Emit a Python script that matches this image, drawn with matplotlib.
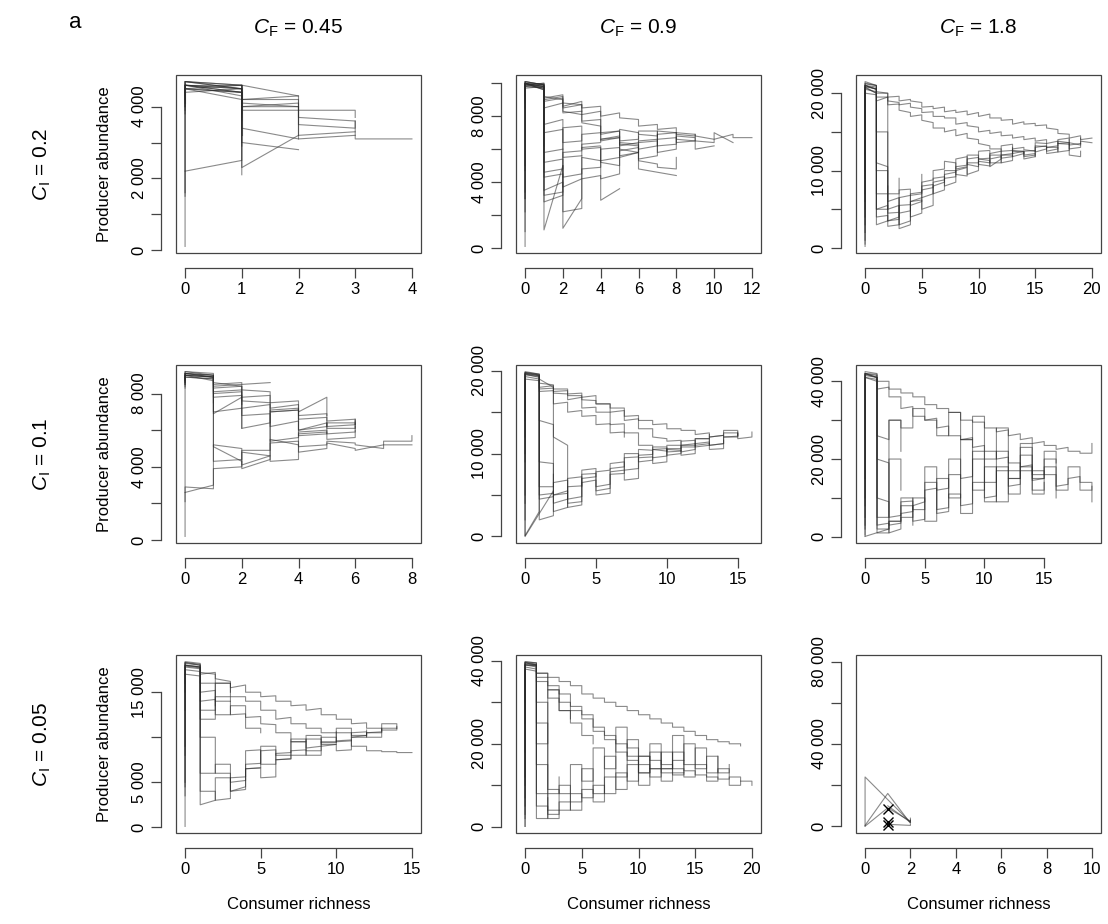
import matplotlib.pyplot as plt
from matplotlib.patches import Rectangle
import numpy as np

plt.rcParams['font.family'] = ['Liberation Sans', 'DejaVu Sans']
plt.rcParams['mathtext.fontset'] = 'custom'
plt.rcParams['mathtext.rm'] = 'Liberation Sans'
plt.rcParams['mathtext.it'] = 'Liberation Sans:italic'

# each trajectory: list of [richness, abundance on arrival, abundance on leaving], in thousands
traj = {}
traj[0, 0] = [
    [[0, 0.1, 4.6], [1, 4.5, 3.9], [2, 3.9, 3.2], [3, 3.3, 3.1], [4, 3.1, 3.1]],
    [[0, 1.5, 4.5], [1, 4.4, 4.0], [2, 4.1, 3.7], [3, 3.6, 3.3]],
    [[0, 1.6, 4.4], [1, 4.5, 2.3], [2, 3.2, 3.1], [3, 3.2, 3.2]],
    [[0, 2.2, 2.2], [1, 2.5, 4.6], [2, 4.3, 3.5], [3, 3.4, 3.6]],
    [[0, 4.2, 4.7], [1, 4.6, 3.0], [2, 2.8, 2.8]],
    [[0, 4.0, 4.6], [1, 4.5, 4.1], [2, 4.0, 3.2]],
    [[0, 4.3, 4.7], [1, 4.5, 3.6]],
    [[0, 4.1, 4.6], [1, 4.6, 3.2]],
    [[0, 4.0, 4.5], [1, 4.4, 2.1]],
    [[0, 4.4, 4.6], [1, 4.4, 3.8]],
    [[0, 3.9, 4.5], [1, 4.6, 4.2], [2, 4.3, 4.3]],
    [[0, 4.2, 4.7], [1, 4.5, 2.9]],
    [[0, 4.1, 4.6], [1, 4.4, 3.4], [2, 3.1, 3.1]],
    [[0, 3.8, 4.6], [1, 4.3, 4.2], [2, 4.2, 3.9], [3, 3.9, 3.7]],
    [[0, 4.3, 4.5], [1, 4.2, 3.7]],
    [[0, 4.5, 4.7], [1, 4.6, 4.0], [2, 4.0, 4.0]],
]
traj[0, 1] = [
    [[0, 0.1, 10.0], [1, 9.9, 9.0], [2, 9.2, 8.8], [3, 8.7, 8.5], [4, 8.6, 8.0], [5, 8.2, 7.9], [6, 7.8, 7.4],
     [7, 7.5, 7.2], [8, 7.3, 7.0], [9, 6.9, 6.8], [10, 6.6, 6.6], [11, 6.9, 6.7], [12, 6.7, 6.7]],
    [[0, 2.2, 9.8], [1, 9.7, 4.3], [2, 4.5, 3.7], [3, 4.2, 5.5], [4, 5.3, 6.0], [5, 6.1, 5.6], [6, 5.8, 6.4],
     [7, 6.5, 6.2], [8, 6.3, 6.8], [9, 6.7, 6.0], [10, 6.2, 6.2]],
    [[0, 3.0, 10.0], [1, 9.6, 3.5], [2, 4.0, 2.2], [3, 2.4, 6.1], [4, 6.2, 4.2], [5, 4.5, 5.5], [6, 5.8, 6.5],
     [7, 6.6, 5.8], [8, 6.0, 7.0]],
    [[0, 4.7, 9.9], [1, 9.8, 9.1], [2, 9.3, 8.6], [3, 8.9, 8.1], [4, 8.3, 7.0], [5, 7.1, 6.0], [6, 5.8, 4.8],
     [7, 4.6, 4.6], [8, 4.4, 4.4]],
    [[0, 1.0, 10.1], [1, 9.9, 1.1], [2, 5.0, 4.3], [3, 4.5, 4.8], [4, 4.9, 5.3], [5, 5.5, 6.4], [6, 6.3, 6.0],
     [7, 6.2, 6.9], [8, 7.0, 6.6], [9, 6.5, 6.5], [10, 6.4, 7.0], [11, 6.4, 6.4]],
    [[0, 3.4, 9.7], [1, 9.8, 5.2], [2, 5.4, 1.2], [3, 3.0, 4.2], [4, 4.4, 2.9], [5, 3.6, 3.6]],
    [[0, 5.0, 10.0], [1, 9.7, 9.2], [2, 9.0, 8.3], [3, 8.1, 7.6], [4, 7.4, 6.5], [5, 6.7, 7.2], [6, 7.0, 6.9],
     [7, 6.8, 7.1], [8, 7.0, 6.9], [9, 6.8, 6.8]],
    [[0, 3.0, 9.9], [1, 10.0, 2.8], [2, 3.2, 7.3], [3, 7.4, 6.0], [4, 6.1, 5.2], [5, 5.0, 5.9], [6, 6.1, 5.4],
     [7, 5.6, 6.9]],
    [[0, 9.5, 10.0], [1, 9.8, 8.9], [2, 9.1, 8.5], [3, 8.7, 7.7], [4, 7.8, 6.9], [5, 7.1, 6.3], [6, 6.2, 5.3],
     [7, 5.1, 4.9], [8, 4.8, 5.5]],
    [[0, 8.8, 10.1], [1, 9.9, 5.8], [2, 6.0, 6.0]],
    [[0, 9.0, 9.9], [1, 10.0, 7.5], [2, 7.8, 5.5], [3, 5.6, 5.6]],
    [[0, 9.2, 10.0], [1, 9.8, 6.2]],
    [[0, 8.5, 9.8], [1, 9.9, 8.5], [2, 8.8, 8.2], [3, 8.3, 8.3]],
    [[0, 9.6, 10.1], [1, 9.9, 4.6], [2, 4.8, 5.8], [3, 5.9, 6.3], [4, 6.4, 6.6], [5, 6.7, 6.2], [6, 6.4, 7.1],
     [7, 7.1, 6.6], [8, 6.7, 6.4], [9, 6.5, 6.9]],
    [[0, 9.3, 9.9], [1, 9.7, 3.2], [2, 3.4, 5.0]],
    [[0, 9.7, 10.0], [1, 9.6, 7.0], [2, 7.2, 6.4], [3, 6.5, 6.9], [4, 7.0, 6.6], [5, 6.8, 6.5], [6, 6.6, 6.8]],
]
traj[0, 2] = [
    [[0, 0.5, 21], [1, 20.5, 19.5], [2, 19.5, 19], [3, 18.8, 18.5], [4, 18.7, 18.2], [5, 18, 17.5], [6, 17.6, 17],
     [7, 17, 16.8], [8, 16.8, 16], [9, 16.2, 15.8], [10, 15.6, 15], [11, 15.2, 14.8], [12, 15, 14.5],
     [13, 14.6, 14.2], [14, 14.4, 14], [15, 14.2, 13.8], [16, 14, 13.5], [17, 13.8, 13.5], [18, 13.6, 13.3],
     [19, 13.5, 13.8], [20, 13.6, 13.6]],
    [[0, 3, 20.8], [1, 20.6, 19], [2, 19.5, 18.5], [3, 18.6, 17.8], [4, 17.5, 17], [5, 17.2, 16.5], [6, 16.2, 15.5],
     [7, 15.5, 15], [8, 15.3, 14.5], [9, 14.8, 14.2], [10, 14, 13.5], [11, 13.2, 12.8], [12, 12.8, 12.5],
     [13, 12.6, 12.2], [14, 12.5, 12], [15, 12.2, 11.8]],
    [[0, 5, 21.2], [1, 21, 20], [2, 20, 19.5], [3, 19.6, 19], [4, 19.2, 19], [5, 18.8, 18.2], [6, 18.3, 18],
     [7, 18.2, 17.6], [8, 17.8, 17.5], [9, 17.7, 17.2], [10, 17.5, 17], [11, 17.3, 16.8], [12, 16.8, 16.5],
     [13, 16.6, 16], [14, 16.3, 16], [15, 16.1, 15.8], [16, 15.9, 15.5], [17, 15.3, 14.8], [18, 14.7, 14.2],
     [19, 14.5, 14], [20, 14.2, 14.2]],
    [[0, 1, 20.5], [1, 20.2, 5], [2, 5.5, 3.5], [3, 4, 5.5], [4, 5.6, 6], [5, 6.5, 7.5], [6, 7.8, 8], [7, 8.5, 9.5],
     [8, 9.8, 10.5], [9, 10.7, 11], [10, 11, 11.5], [11, 11.3, 10.5], [12, 11.5, 12], [13, 12, 11.8],
     [14, 12.2, 12.5], [15, 12.6, 12.4], [16, 12.8, 13], [17, 13.2, 13.5], [18, 13.4, 12.8], [19, 13, 13.5]],
    [[0, 6, 20], [1, 19.8, 4], [2, 4.2, 2.8], [3, 3, 4.5], [4, 4.8, 5.5], [5, 6, 6.5], [6, 7, 8.5], [7, 8.8, 9],
     [8, 9.2, 10], [9, 10.4, 9.5], [10, 10, 11.2], [11, 11, 11.5], [12, 11.8, 11], [13, 11.3, 12.5],
     [14, 12.4, 11.8], [15, 12, 13], [16, 13.2, 12.5], [17, 12.8, 13.8], [18, 13.6, 14]],
    [[0, 2, 21], [1, 20.5, 11], [2, 10.5, 6], [3, 6.5, 3], [4, 3.5, 7], [5, 7.2, 8.5], [6, 8.8, 10], [7, 10.2, 11.2],
     [8, 11, 10.2], [9, 10.5, 12], [10, 12, 11.5], [11, 11.6, 12.2], [12, 12.5, 12], [13, 12.2, 13]],
    [[0, 0.2, 20.8], [1, 20, 7], [2, 7, 5], [3, 5.5, 2.5], [4, 3, 6], [5, 6.2, 5], [6, 5.5, 9], [7, 9.2, 8],
     [8, 8.5, 11.5], [9, 11.8, 10.8], [10, 10.5, 12.5], [11, 12.6, 11], [12, 11, 13.2], [13, 13.4, 12.6],
     [14, 12.5, 11.5], [15, 11.8, 13.2], [16, 13.1, 12.2], [17, 12.4, 14], [18, 14.2, 12], [19, 11.8, 12.5]],
    [[0, 4, 21], [1, 20.5, 10], [2, 10, 3.5], [3, 3.7, 6.5], [4, 6.8, 4], [5, 4.5, 8], [6, 8.2, 7], [7, 7.5, 10],
     [8, 10, 9.5], [9, 9.3, 11.5], [10, 11.7, 10.8], [11, 10.6, 12], [12, 12, 11.6], [13, 11.8, 12.8],
     [14, 13, 12.7], [15, 12.5, 13.6], [16, 13.5, 13], [17, 13, 12.4], [18, 12.6, 13.6], [19, 13.3, 14.2]],
    [[0, 9, 21.5], [1, 21, 5], [2, 5, 8]],
    [[0, 7, 20.7], [1, 20, 3], [2, 3.5, 3.5]],
    [[0, 10, 21], [1, 20.8, 15], [2, 15, 7], [3, 7, 9]],
    [[0, 12, 21.3], [1, 21, 20.2], [2, 20, 4.5], [3, 4.6, 7.5], [4, 7.6, 6.8], [5, 7, 9.5]],
]
traj[1, 0] = [
    [[0, 0.2, 9.0], [1, 8.9, 8.3], [2, 8.4, 7.6], [3, 7.5, 7.0], [4, 7.1, 6.6], [5, 6.7, 6.2], [6, 6.3, 6.5]],
    [[0, 8.5, 9.1], [1, 9.0, 8.0], [2, 8.1, 7.2], [3, 7.4, 6.2], [4, 6.5, 6.0], [5, 6.4, 6.1], [6, 6.1, 6.6]],
    [[0, 8.6, 8.9], [1, 8.8, 8.4], [2, 8.5, 8.2], [3, 8.1, 7.5], [4, 7.6, 7.0], [5, 7.8, 6.5], [6, 6.6, 6.3]],
    [[0, 8.4, 9.0], [1, 8.9, 6.9], [2, 7.8, 6.1]],
    [[0, 8.7, 9.2], [1, 9.1, 8.5], [2, 8.6, 8.5], [3, 8.6, 8.6]],
    [[0, 2.1, 2.9], [1, 2.8, 5.2], [2, 5.0, 4.1], [3, 4.6, 5.3], [4, 5.4, 5.1], [5, 5.2, 5.4], [6, 5.3, 5.2],
     [7, 5.0, 5.4], [8, 5.4, 5.7]],
    [[0, 2.6, 2.6], [1, 3.0, 3.9], [2, 4.0, 4.9], [3, 4.9, 5.5], [4, 5.2, 4.8], [5, 5.0, 5.3], [6, 5.0, 4.9],
     [7, 5.2, 5.2], [8, 5.2, 5.2]],
    [[0, 8.8, 9.0], [1, 8.9, 4.3], [2, 4.4, 4.8], [3, 4.6, 4.3], [4, 4.4, 5.8], [5, 5.9, 5.5], [6, 5.6, 6.0]],
    [[0, 8.5, 9.1], [1, 9.0, 5.1], [2, 4.3, 3.9], [3, 4.4, 7.0], [4, 7.1, 6.0], [5, 6.2, 6.4]],
    [[0, 8.6, 8.9], [1, 8.8, 8.1], [2, 8.2, 6.1], [3, 6.4, 7.1], [4, 7.2, 5.7], [5, 5.8, 6.4], [6, 6.4, 6.1]],
    [[0, 8.9, 9.1], [1, 8.9, 7.0], [2, 7.2, 6.8], [3, 6.9, 5.4], [4, 5.6, 5.9], [5, 6.0, 5.8], [6, 5.9, 6.2]],
    [[0, 8.3, 9.0], [1, 8.7, 8.6], [2, 8.4, 7.8], [3, 7.9, 7.2], [4, 7.4, 6.8], [5, 6.9, 6.8]],
    [[0, 8.7, 9.1], [1, 8.9, 7.5]],
    [[0, 8.8, 9.2], [1, 9.0, 7.8], [2, 7.9, 7.4]],
]
traj[1, 1] = [
    [[0, 0.2, 19.5], [1, 19.3, 18], [2, 18.2, 17.5], [3, 17.6, 17], [4, 17, 16.5], [5, 16.4, 16], [6, 16, 15],
     [7, 15.2, 14.5], [8, 14.6, 14], [9, 14, 13.5], [10, 13.6, 13], [11, 13, 12.8], [12, 12.8, 12.3],
     [13, 12.5, 12], [14, 12.2, 12], [15, 12.1, 12.6]],
    [[0, 4, 19.8], [1, 19.6, 18.5], [2, 18.3, 17.8], [3, 17.8, 17.2], [4, 17.3, 16.8], [5, 17, 16], [6, 16, 15.5],
     [7, 15.5, 14], [8, 14.2, 13], [9, 13, 12], [10, 11.8, 11.5], [11, 11.6, 11], [12, 11.2, 11.8],
     [13, 11.8, 12], [14, 12.2, 12.5], [15, 12.5, 12.2]],
    [[0, 9, 19.6], [1, 19.2, 17.8], [2, 17.9, 17.3], [3, 17.2, 16.5], [4, 16.8, 15.5], [5, 15.6, 15], [6, 15, 13.5],
     [7, 13.6, 12.5], [8, 12.5, 11], [9, 11, 10.5], [10, 10.6, 10.2], [11, 10.3, 10.8], [12, 10.8, 11.2]],
    [[0, 0.1, 19], [1, 18.8, 5], [2, 5.2, 4], [3, 4.5, 6], [4, 6.1, 7], [5, 7.2, 7.8], [6, 8, 8.2], [7, 8.4, 9.5],
     [8, 9.6, 9.8], [9, 9.9, 10.5], [10, 10.3, 10.6], [11, 10.6, 11], [12, 11, 11.2], [13, 11.4, 11],
     [14, 11.2, 12], [15, 12, 12.4]],
    [[0, 5, 19.3], [1, 19, 2], [2, 2.5, 6.5], [3, 6.8, 3.5], [4, 3.8, 7.5], [5, 7.6, 6], [6, 6.3, 8.8], [7, 9, 8],
     [8, 8.2, 10.5], [9, 10.4, 9.5], [10, 9.7, 11], [11, 11, 10.2], [12, 10.5, 11.8], [13, 11.8, 11],
     [14, 11.2, 12.8], [15, 12.8, 11.8], [16, 12, 12.6]],
    [[0, 2, 19.7], [1, 19.4, 9], [2, 8.8, 5], [3, 5.5, 4.5], [4, 4.8, 8], [5, 8.2, 5.5], [6, 5.8, 7.5],
     [7, 7.6, 10], [8, 10, 9], [9, 9.2, 10.8], [10, 10.8, 9.8], [11, 10, 11.5], [12, 11.6, 10.8], [13, 11, 12.3]],
    [[0, 0.1, 0.1], [1, 3, 19], [2, 18, 12], [3, 11, 4], [4, 4.2, 6.5], [5, 6.8, 5], [6, 5.2, 7.8], [7, 8, 6.8],
     [8, 7, 9.5], [9, 9.6, 8.8], [10, 9, 10.5], [11, 10.4, 9.8], [12, 10, 11], [13, 11.2, 10.5], [14, 10.6, 11.6]],
    [[0, 12, 19.8], [1, 19.5, 14], [2, 13.5, 3], [3, 3.5, 5]],
    [[0, 15, 19.6], [1, 19.4, 6], [2, 6, 7.5]],
    [[0, 0.0, 0.0], [2, 5.5, 5.0], [3, 5.2, 7.0], [4, 7.2, 6.0]],
    [[0, 10, 19.9], [1, 19.6, 17.5], [2, 17.6, 16], [3, 16.2, 15], [4, 15.2, 14.5], [5, 14.6, 13.5],
     [6, 13.6, 12.5], [7, 12.6, 12]],
    [[0, 14, 19.7], [1, 19.5, 4.5], [2, 4.8, 5.5]],
]
traj[1, 2] = [
    [[0, 0.2, 42], [1, 41.5, 40], [2, 40, 38], [3, 38, 37], [4, 37, 36], [5, 36, 34], [6, 34, 33], [7, 33, 32],
     [8, 32, 30], [9, 30, 29.5], [10, 29.5, 28], [11, 28, 27], [12, 27.5, 26], [13, 26.5, 25], [14, 25.5, 24],
     [15, 24.5, 23.5], [16, 23.5, 22.5], [17, 23, 22], [18, 22, 21.5], [19, 21.5, 24]],
    [[0, 5, 41.8], [1, 41, 38], [2, 38.5, 36], [3, 36, 33], [4, 33.5, 31], [5, 31, 30], [6, 30.5, 28],
     [7, 28.5, 26], [8, 26, 25], [9, 25.5, 23], [10, 23.5, 22], [11, 22, 20], [12, 20.5, 19], [13, 19, 18],
     [14, 18.5, 17], [15, 17, 16]],
    [[0, 0.5, 41], [1, 40.5, 3], [2, 3.5, 1], [3, 2, 6], [4, 6.5, 8], [5, 9, 14], [6, 14, 12], [7, 12.5, 20],
     [8, 20, 15], [9, 15.5, 22], [10, 22, 14], [11, 14, 18], [12, 18, 13], [13, 13.5, 17], [14, 17, 14.5],
     [15, 15, 18], [16, 18, 12], [17, 12, 15], [18, 15.5, 14], [19, 14, 9]],
    [[0, 2, 42], [1, 41.8, 10], [2, 9, 5], [3, 5.5, 9], [4, 9.2, 4], [5, 4.5, 12], [6, 12.5, 7], [7, 7.5, 16],
     [8, 16, 8], [9, 8.5, 20], [10, 20, 10], [11, 10.5, 22], [12, 22, 15], [13, 15, 24], [14, 24, 16],
     [15, 16, 20], [16, 20, 13], [17, 13.5, 18], [18, 18, 12], [19, 12, 13]],
    [[0, 10, 41.5], [1, 41, 20], [2, 19, 3], [3, 3.5, 10], [4, 10, 7], [5, 7, 18], [6, 18, 6], [7, 6.5, 11],
     [8, 11, 6], [9, 6, 14], [10, 14, 9], [11, 9, 17], [12, 17, 11], [13, 11, 21], [14, 21, 12], [15, 12, 16],
     [16, 16, 10]],
    [[0, 25, 42], [1, 41, 26], [2, 25, 30], [3, 30, 28], [4, 28, 33], [5, 33, 30], [6, 30, 26], [7, 26, 32],
     [8, 32, 25], [9, 25, 31], [10, 31, 20], [11, 20, 28], [12, 28, 17], [13, 17, 23], [14, 23, 15],
     [15, 15, 22], [16, 22, 19]],
    [[0, 3, 41], [1, 40, 2], [2, 2, 4], [3, 4, 5], [4, 5, 10], [5, 10, 4], [6, 4, 15], [7, 15, 10], [8, 10, 25],
     [9, 25, 12], [10, 12, 18], [11, 18, 9], [12, 9, 15], [13, 15, 18], [14, 18, 11], [15, 11, 14]],
    [[0, 15, 42], [1, 41, 5], [2, 5, 20], [3, 20, 12]],
    [[0, 8, 42.5], [1, 42, 1], [2, 1, 30], [3, 30, 22]],
    [[0, 0.1, 0.1], [2, 2, 4], [3, 4, 8], [4, 8, 3]],
]
traj[2, 0] = [
    [[0, 0.1, 18], [1, 17.8, 17], [2, 17.2, 16.5], [3, 16.2, 15.5], [4, 15.8, 15], [5, 15, 14.5], [6, 14.6, 14],
     [7, 14, 13.5], [8, 13.6, 13], [9, 13.2, 12.5], [10, 12.5, 12], [11, 12, 11.5], [12, 11.6, 11],
     [13, 11, 10.8], [14, 10.8, 11]],
    [[0, 8, 17.8], [1, 17.6, 17.2], [2, 17, 16], [3, 16, 14.5], [4, 14.5, 14], [5, 14, 13], [6, 13, 12],
     [7, 12.2, 11.5], [8, 11.5, 11], [9, 11, 10.5], [10, 10.5, 10.5], [11, 10.5, 10.2], [12, 10.2, 10.5],
     [13, 10.6, 10.8]],
    [[0, 15, 18.2], [1, 18, 16], [2, 16, 12.5], [3, 12.5, 13.5], [4, 13.5, 12.2], [5, 12.3, 11.5], [6, 11.4, 10.5],
     [7, 10.5, 9.5], [8, 9.5, 9.8], [9, 9.8, 9.4], [10, 9.4, 9.6], [11, 9.7, 9], [12, 9, 8.5], [13, 8.5, 8.4],
     [14, 8.4, 8.3], [15, 8.3, 8.3]],
    [[0, 3.5, 17.5], [1, 17.3, 4], [2, 4, 3], [3, 3.2, 5.5], [4, 5.6, 6.5], [5, 6.6, 5.5], [6, 5.6, 7.5],
     [7, 7.6, 8.5], [8, 8.6, 8], [9, 8, 9], [10, 9.2, 8.5], [11, 8.6, 10], [12, 10, 10.5], [13, 10.5, 11],
     [14, 11, 11.2]],
    [[0, 4.5, 17.9], [1, 17.7, 6], [2, 6, 7], [3, 7, 5], [4, 5.2, 7], [5, 7.1, 8.5], [6, 8.6, 8], [7, 8, 9.5],
     [8, 9.5, 8.8], [9, 9, 10], [10, 10, 9.5], [11, 9.6, 10.5], [12, 10.6, 10], [13, 10, 11.5], [14, 11.5, 11]],
    [[0, 5, 17], [1, 16.8, 2.5], [2, 3, 5.5], [3, 5.5, 4], [4, 4.2, 8.5], [5, 8.6, 7], [6, 7, 8.2], [7, 8.3, 9.8],
     [8, 9.8, 8.5], [9, 8.5, 9.5], [10, 9.5, 11], [11, 11, 10], [12, 10.2, 10.8]],
    [[0, 9, 18], [1, 17.8, 10], [2, 10, 6], [3, 6, 4], [4, 4.5, 6.5], [5, 6.6, 9], [6, 9, 7.5], [7, 7.6, 8],
     [8, 8, 10.2], [9, 10.2, 9.2], [10, 9.2, 10.6]],
    [[0, 13, 18.3], [1, 18, 12], [2, 12, 16], [3, 16, 15]],
    [[0, 16, 18], [1, 17.8, 13], [2, 13, 14.5], [3, 14.5, 14]],
    [[0, 17, 18.4], [1, 18.2, 15], [2, 15.2, 14], [3, 14, 12.5], [4, 12.6, 11], [5, 11, 10.5]],
    [[0, 17.5, 18.3], [1, 18.1, 14], [2, 14.2, 13.5]],
]
traj[2, 1] = [
    [[0, 0.1, 39.5], [1, 39, 37], [2, 37, 36], [3, 36, 35], [4, 35, 34], [5, 34, 32], [6, 32, 31], [7, 31, 30],
     [8, 30, 29], [9, 29, 28], [10, 28, 27], [11, 27, 26], [12, 26, 25], [13, 25, 24], [14, 24, 23],
     [15, 23, 22], [16, 22, 21], [17, 21, 20.5], [18, 20.5, 20], [19, 20, 19.5]],
    [[0, 5, 39], [1, 38.5, 35], [2, 35, 33], [3, 33, 30], [4, 30, 28], [5, 28, 26], [6, 26, 24], [7, 24, 22],
     [8, 22, 20], [9, 20, 19], [10, 19, 17], [11, 17, 16], [12, 16, 15], [13, 15, 14], [14, 14, 13.5],
     [15, 13.5, 12.5], [16, 12.5, 12], [17, 12, 11.5], [18, 11.5, 12], [19, 12, 11], [20, 11, 10]],
    [[0, 10, 39.2], [1, 39, 37], [2, 37, 34], [3, 34, 32], [4, 32, 29], [5, 29, 27], [6, 27, 23], [7, 23, 21],
     [8, 21, 18], [9, 18, 17], [10, 17, 15], [11, 15, 14], [12, 14, 13], [13, 13, 12.5], [14, 12.5, 13]],
    [[0, 0.1, 38], [1, 37.5, 5], [2, 5, 2], [3, 2, 6], [4, 6, 4], [5, 4, 9], [6, 9, 6], [7, 6, 12], [8, 12, 9],
     [9, 9, 15], [10, 15, 10], [11, 10, 14], [12, 14, 11], [13, 11, 16], [14, 16, 12], [15, 12, 15],
     [16, 15, 11], [17, 11, 14], [18, 14, 10], [19, 10, 11]],
    [[0, 2, 39.7], [1, 39.5, 8], [2, 8, 3], [3, 3, 4], [4, 4, 8], [5, 8, 7], [6, 7, 10], [7, 10, 8], [8, 8, 13],
     [9, 13, 11], [10, 11, 17], [11, 17, 12], [12, 12, 18], [13, 18, 13], [14, 13, 20], [15, 20, 14],
     [16, 14, 17], [17, 17, 13], [18, 13, 15]],
    [[0, 7, 38.5], [1, 38, 15], [2, 15, 4], [3, 4, 10], [4, 10, 6], [5, 6, 14], [6, 14, 8], [7, 8, 17],
     [8, 17, 12], [9, 12, 21], [10, 21, 13], [11, 13, 18], [12, 18, 14], [13, 14, 22], [14, 22, 15],
     [15, 15, 19], [16, 19, 13], [17, 13, 17]],
    [[0, 12, 39], [1, 38.8, 25], [2, 25, 9], [3, 9, 8], [4, 8, 15], [5, 15, 11], [6, 11, 19], [7, 19, 14],
     [8, 14, 24], [9, 24, 16], [10, 16, 13], [11, 13, 20], [12, 20, 14], [13, 14, 18], [14, 18, 16]],
    [[0, 18, 39.5], [1, 39, 30], [2, 30, 8], [3, 8, 12]],
    [[0, 25, 39], [1, 38.8, 20], [2, 20, 33], [3, 33, 28], [4, 28, 26]],
    [[0, 3, 39.8], [1, 39.5, 2], [2, 2, 7]],
    [[0, 30, 39.6], [1, 39.2, 36], [2, 36, 31], [3, 31, 28], [4, 28, 25], [5, 25, 22], [6, 22, 20]],
]
traj[2, 2] = [
    [[0, 0.2, 24], [2, 2, 3]],
    [[0, 0.5, 0.5], [1, 16, 16], [2, 1.5, 4]],
    [[0, 0.1, 0.1], [1, 9, 9], [2, 2.5, 3]],
    [[1, 10, 10], [2, 2, 2]],
    [[1, 1, 1], [2, 0.5, 1]],
]
cross_x = [1, 1, 1]
cross_y = [8.5, 2.2, 0.8]

cf_labels = ["0.45", "0.9", "1.8"]
ci_labels = ["0.2", "0.1", "0.05"]

xstep = [[1, 2, 5], [2, 5, 5], [5, 5, 2]]
ystep = [[1000, 2000, 5000], [2000, 5000, 10000], [5000, 10000, 20000]]
ylab = [[[0, 2000, 4000], [0, 4000, 8000], [0, 10000, 20000]],
        [[0, 4000, 8000], [0, 10000, 20000], [0, 20000, 40000]],
        [[0, 5000, 15000], [0, 20000, 40000], [0, 40000, 80000]]]

W, H = 1108, 924
fig = plt.figure(figsize=(W / 100, H / 100), dpi=100)
lefts = [176, 516, 856]
tops = [75, 365, 655]
bw, bh = 245, 178


def fmt(v):
    return f"{int(v):,}".replace(",", " ")


for r in range(3):
    for c in range(3):
        ax = fig.add_axes([lefts[c] / W, 1 - (tops[r] + bh) / H, bw / W, bh / H])
        for s in ["top", "right"]:
            ax.spines[s].set_visible(False)
        ax.spines["left"].set_position(("outward", 11))
        ax.spines["bottom"].set_position(("outward", 11))

        xs_all, ys_all = [], []
        for t in traj[r, c]:
            xs, ys = [], []
            for k, a, b in t:
                xs += [k, k]
                ys += [a * 1000, b * 1000]
            ax.plot(xs, ys, color="#2a2a2a", alpha=0.55, lw=0.8)
            xs_all += xs
            ys_all += ys
        if (r, c) == (2, 2):
            ax.plot(cross_x, np.array(cross_y) * 1000, "x", color="black", ms=7, mew=1)
            x0, x1, y0, y1 = 0, 10, 0, 80000
        else:
            x0, x1, y0, y1 = 0, max(xs_all), min(ys_all), max(ys_all)
        dx, dy = 0.04 * (x1 - x0), 0.04 * (y1 - y0)
        ax.set_xlim(x0 - dx, x1 + dx)
        ax.set_ylim(y0 - dy, y1 + dy)

        xt = np.arange(0, x1 + dx + 1e-9, xstep[r][c])
        ax.set_xticks(xt)
        ax.set_xticklabels([f"{v:g}" for v in xt], fontsize=12)
        yt = np.arange(0, y1 + dy + 1e-9, ystep[r][c])
        ax.set_yticks(yt)
        ax.set_yticklabels([fmt(v) if v in ylab[r][c] else "" for v in yt],
                           fontsize=12, rotation=90, va="center")
        ax.spines["left"].set_bounds(yt[0], yt[-1])
        ax.spines["bottom"].set_bounds(xt[0], xt[-1])
        for s in ["left", "bottom"]:
            ax.spines[s].set_color("#444444")
            ax.spines[s].set_linewidth(0.9)
        ax.tick_params(direction="out", length=7, width=0.9, color="#444444", pad=3)
        ax.add_patch(Rectangle((0, 0), 1, 1, transform=ax.transAxes, fill=False,
                               ec="#444444", lw=0.9, clip_on=False))
        if c == 0:
            ax.set_ylabel("Producer abundance", fontsize=12, labelpad=14)
        if r == 2:
            ax.set_xlabel("Consumer richness", fontsize=12, labelpad=14)
        if r == 0:
            ax.set_title(r"$\mathit{C}_\mathrm{F}$ = " + cf_labels[c], fontsize=15, pad=30)
        if c == 0:
            fig.text(42 / W, 1 - (tops[r] + bh / 2) / H, r"$\mathit{C}_\mathrm{I}$ = " + ci_labels[r],
                     fontsize=15, rotation=90, ha="center", va="center")

fig.text(75 / W, 1 - 22 / H, "a", fontsize=16, ha="center", va="center")
fig.savefig("out.png", dpi=100)
